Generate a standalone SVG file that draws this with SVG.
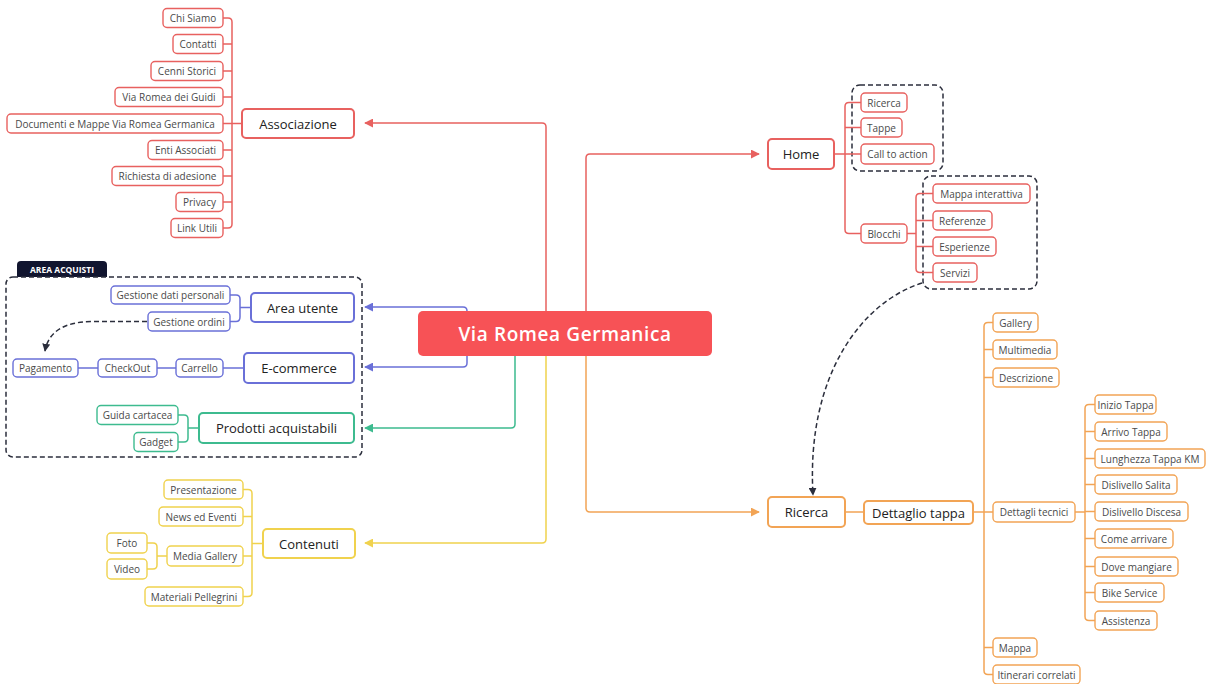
<svg xmlns="http://www.w3.org/2000/svg" width="1206" height="684" viewBox="0 0 1206 684">
<defs>
<style>
.t{font-family:"Open Sans","Liberation Sans",sans-serif;font-size:10px;fill:#4a4a4a;text-anchor:middle;dominant-baseline:central}
.tl{font-family:"Open Sans","Liberation Sans",sans-serif;font-size:13px;font-weight:500;fill:#222;text-anchor:middle;dominant-baseline:central}
.n{fill:#fff;stroke-width:1.4}
.m{fill:#fff;stroke-width:2}
.red{stroke:#e8615f}.blu{stroke:#6a70d8}.grn{stroke:#3dbb8f}.yel{stroke:#f0d24e}.org{stroke:#f2a455}
.c{fill:none;stroke-width:1.5}
.dash{fill:none;stroke:#2b2e3c;stroke-width:1.5;stroke-dasharray:5 3}
</style>
<marker id="ar" viewBox="0 0 10 10" refX="9" refY="5" markerWidth="9" markerHeight="9" markerUnits="userSpaceOnUse" orient="auto"><path d="M0,0L10,5L0,10z" fill="#e8615f"/></marker>
<marker id="ab" viewBox="0 0 10 10" refX="9" refY="5" markerWidth="9" markerHeight="9" markerUnits="userSpaceOnUse" orient="auto"><path d="M0,0L10,5L0,10z" fill="#6a70d8"/></marker>
<marker id="ag" viewBox="0 0 10 10" refX="9" refY="5" markerWidth="9" markerHeight="9" markerUnits="userSpaceOnUse" orient="auto"><path d="M0,0L10,5L0,10z" fill="#3dbb8f"/></marker>
<marker id="ay" viewBox="0 0 10 10" refX="9" refY="5" markerWidth="9" markerHeight="9" markerUnits="userSpaceOnUse" orient="auto"><path d="M0,0L10,5L0,10z" fill="#f0d24e"/></marker>
<marker id="ao" viewBox="0 0 10 10" refX="9" refY="5" markerWidth="9" markerHeight="9" markerUnits="userSpaceOnUse" orient="auto"><path d="M0,0L10,5L0,10z" fill="#f2a455"/></marker>
<marker id="ak" viewBox="0 0 10 10" refX="9" refY="5" markerWidth="8" markerHeight="8" markerUnits="userSpaceOnUse" orient="auto"><path d="M0,0L10,5L0,10z" fill="#2b2e3c"/></marker>
</defs>
<rect width="1206" height="684" fill="#fff"/>

<g id="groups">
<path d="M17,277 V265 Q17,261 21,261 H103 Q107,261 107,265 V277 Z" fill="#11152f"/>
<text x="62" y="269.5" font-family="Open Sans, Liberation Sans, sans-serif" font-size="8.5" font-weight="700" fill="#fff" text-anchor="middle" dominant-baseline="central">AREA ACQUISTI</text>
<rect class="dash" x="6" y="277" width="356" height="180" rx="7"/>
<rect class="dash" x="852" y="85" width="91" height="86" rx="8"/>
<rect class="dash" x="923" y="176" width="114" height="113" rx="8"/>
</g>

<g id="connectors">
<path class="c red" d="M546,311 V127 Q546,123 542,123 H365" marker-end="url(#ar)"/>
<path class="c red" d="M586,311 V158 Q586,154 590,154 H759" marker-end="url(#ar)"/>
<path class="c org" d="M586,356 V508 Q586,512 590,512 H759" marker-end="url(#ao)"/>
<path class="c blu" d="M467,320 V311 Q467,307 463,307 H365" marker-end="url(#ab)"/>
<path class="c blu" d="M467,340 V363 Q467,367 463,367 H365" marker-end="url(#ab)"/>
<path class="c grn" d="M515,356 V424 Q515,428 511,428 H365" marker-end="url(#ag)"/>
<path class="c yel" d="M546,356 V539 Q546,543 542,543 H365" marker-end="url(#ay)"/>

<path class="c red" d="M223,18 H228 Q232,18 232,22 V224 Q232,228 228,228 H223 M223,44 H232 M223,71 H232 M223,97 H232 M223,123.5 H242 M223,150 H232 M223,176 H232 M223,202 H232"/>
<path class="c blu" d="M230,295 H236 Q240,295 240,299 V317 Q240,321.5 236,321.5 H230 M240,307.5 H251 M78,368 H98 M157,368 H176 M223,368 H244"/>
<path class="c grn" d="M178,415 H184 Q188,415 188,419 V438 Q188,442 184,442 H178 M188,428 H199"/>
<path class="c yel" d="M243,489.5 H248 Q252,489.5 252,493.5 V592.5 Q252,596.5 248,596.5 H243 M243,516.5 H252 M243,556 H252 M252,543.5 H263 M147,543 H153 Q157,543 157,547 V565 Q157,569 153,569 H147 M157,556 H167"/>
<path class="c red" d="M861,102.5 H849 Q845,102.5 845,106.5 V229.5 Q845,233.5 849,233.5 H861 M845,127.5 H861 M834,154 H861 M933,193.5 H920 Q916,193.5 916,197.5 V268.5 Q916,272.5 920,272.5 H933 M916,220.5 H933 M916,246.5 H933 M907,233.5 H916"/>
<path class="c org" d="M845,512 H864 M973,512 H993 M993,322.5 H988 Q984,322.5 984,326.5 V670.5 Q984,674.5 988,674.5 H993 M984,349.5 H993 M984,377.5 H993 M984,647.5 H993 M1095,404.5 H1089 Q1085,404.5 1085,408.5 V616.5 Q1085,620.5 1089,620.5 H1095 M1085,431.5 H1095 M1085,458.5 H1095 M1085,484.5 H1095 M1085,511.5 H1095 M1085,538.5 H1095 M1085,566.5 H1095 M1085,592.5 H1095 M1075,512 H1085"/>

<path class="dash" d="M147,321.5 H92 Q50,322 45,351" marker-end="url(#ak)"/>
<path class="dash" d="M922,283 C862,302 806,375 813,495" marker-end="url(#ak)"/>
</g>

<g id="central"><rect x="418" y="311" width="294" height="45" rx="5" fill="#f75256"/><text x="565" y="333.5" font-family="Open Sans, Liberation Sans, sans-serif" font-size="19" font-weight="600" letter-spacing="0.6" fill="#fff" text-anchor="middle" dominant-baseline="central">Via Romea Germanica</text></g>

<g id="associazione"><rect class="m red" x="242" y="109" width="112" height="29" rx="4"/><text class="tl" x="298" y="123.5">Associazione</text></g>
<g id="chi-siamo"><rect class="n red" x="163" y="8.5" width="60" height="19" rx="4"/><text class="t" x="193" y="18">Chi Siamo</text></g>
<g id="contatti"><rect class="n red" x="173" y="34.5" width="50" height="19" rx="4"/><text class="t" x="198" y="44">Contatti</text></g>
<g id="cenni-storici"><rect class="n red" x="151" y="61.5" width="72" height="19" rx="4"/><text class="t" x="187" y="71">Cenni Storici</text></g>
<g id="via-romea-guidi"><rect class="n red" x="115" y="87.5" width="108" height="19" rx="4"/><text class="t" x="169" y="97">Via Romea dei Guidi</text></g>
<g id="documenti"><rect class="n red" x="7" y="114" width="216" height="19" rx="4"/><text class="t" x="115" y="123.5">Documenti e Mappe Via Romea Germanica</text></g>
<g id="enti"><rect class="n red" x="148" y="140.5" width="75" height="19" rx="4"/><text class="t" x="185.5" y="150">Enti Associati</text></g>
<g id="richiesta"><rect class="n red" x="112" y="166.5" width="111" height="19" rx="4"/><text class="t" x="167.5" y="176">Richiesta di adesione</text></g>
<g id="privacy"><rect class="n red" x="176" y="192.5" width="47" height="19" rx="4"/><text class="t" x="199.5" y="202">Privacy</text></g>
<g id="link-utili"><rect class="n red" x="171" y="218.5" width="52" height="19" rx="4"/><text class="t" x="197" y="228">Link Utili</text></g>

<g id="area-utente"><rect class="m blu" x="251" y="293" width="103" height="29" rx="4"/><text class="tl" x="302.5" y="307.5">Area utente</text></g>
<g id="gestione-dati"><rect class="n blu" x="111" y="286" width="119" height="18" rx="4"/><text class="t" x="170.5" y="295">Gestione dati personali</text></g>
<g id="gestione-ordini"><rect class="n blu" x="148" y="312" width="82" height="19" rx="4"/><text class="t" x="189" y="321.5">Gestione ordini</text></g>
<g id="ecommerce"><rect class="m blu" x="244" y="353" width="110" height="30" rx="4"/><text class="tl" x="299" y="368">E-commerce</text></g>
<g id="carrello"><rect class="n blu" x="176" y="359" width="47" height="18" rx="4"/><text class="t" x="199.5" y="368">Carrello</text></g>
<g id="checkout"><rect class="n blu" x="98" y="359" width="59" height="18" rx="4"/><text class="t" x="127.5" y="368">CheckOut</text></g>
<g id="pagamento"><rect class="n blu" x="13" y="359" width="65" height="18" rx="4"/><text class="t" x="45.5" y="368">Pagamento</text></g>
<g id="prodotti"><rect class="m grn" x="199" y="413" width="155" height="30" rx="4"/><text class="tl" x="276.5" y="428">Prodotti acquistabili</text></g>
<g id="guida"><rect class="n grn" x="97" y="405.5" width="81" height="19" rx="4"/><text class="t" x="137.5" y="415">Guida cartacea</text></g>
<g id="gadget"><rect class="n grn" x="134" y="432.5" width="44" height="19" rx="4"/><text class="t" x="156" y="442">Gadget</text></g>

<g id="contenuti"><rect class="m yel" x="263" y="529" width="92" height="29" rx="4"/><text class="tl" x="309" y="543.5">Contenuti</text></g>
<g id="presentazione"><rect class="n yel" x="164" y="480" width="79" height="19" rx="4"/><text class="t" x="203.5" y="489.5">Presentazione</text></g>
<g id="news"><rect class="n yel" x="159" y="507" width="84" height="19" rx="4"/><text class="t" x="201" y="516.5">News ed Eventi</text></g>
<g id="media-gallery"><rect class="n yel" x="167" y="546" width="76" height="20" rx="4"/><text class="t" x="205" y="556">Media Gallery</text></g>
<g id="materiali"><rect class="n yel" x="145" y="587" width="98" height="19" rx="4"/><text class="t" x="194" y="596.5">Materiali Pellegrini</text></g>
<g id="foto"><rect class="n yel" x="107" y="533" width="40" height="20" rx="4"/><text class="t" x="127" y="543">Foto</text></g>
<g id="video"><rect class="n yel" x="107" y="559" width="40" height="20" rx="4"/><text class="t" x="127" y="569">Video</text></g>

<g id="home"><rect class="m red" x="768" y="139" width="66" height="30" rx="4"/><text class="tl" x="801" y="154">Home</text></g>
<g id="home-ricerca"><rect class="n red" x="861" y="93" width="46" height="19" rx="4"/><text class="t" x="884" y="102.5">Ricerca</text></g>
<g id="tappe"><rect class="n red" x="861" y="118" width="41" height="19" rx="4"/><text class="t" x="881.5" y="127.5">Tappe</text></g>
<g id="call-to-action"><rect class="n red" x="861" y="144" width="73" height="20" rx="4"/><text class="t" x="897.5" y="154">Call to action</text></g>
<g id="blocchi"><rect class="n red" x="861" y="224" width="46" height="19" rx="4"/><text class="t" x="884" y="233.5">Blocchi</text></g>
<g id="mappa-interattiva"><rect class="n red" x="933" y="184" width="97" height="19" rx="4"/><text class="t" x="981.5" y="193.5">Mappa interattiva</text></g>
<g id="referenze"><rect class="n red" x="933" y="211" width="59" height="19" rx="4"/><text class="t" x="962.5" y="220.5">Referenze</text></g>
<g id="esperienze"><rect class="n red" x="933" y="237" width="63" height="19" rx="4"/><text class="t" x="964.5" y="246.5">Esperienze</text></g>
<g id="servizi"><rect class="n red" x="933" y="263" width="44" height="19" rx="4"/><text class="t" x="955" y="272.5">Servizi</text></g>

<g id="ricerca"><rect class="m org" x="768" y="497" width="77" height="30" rx="4"/><text class="tl" x="806.5" y="512">Ricerca</text></g>
<g id="dettaglio-tappa"><rect class="m org" x="864" y="501" width="109" height="23" rx="4"/><text class="tl" x="918.5" y="512.5">Dettaglio tappa</text></g>
<g id="gallery"><rect class="n org" x="993" y="313" width="45" height="19" rx="4"/><text class="t" x="1015.5" y="322.5">Gallery</text></g>
<g id="multimedia"><rect class="n org" x="993" y="340" width="64" height="19" rx="4"/><text class="t" x="1025" y="349.5">Multimedia</text></g>
<g id="descrizione"><rect class="n org" x="993" y="368" width="66" height="19" rx="4"/><text class="t" x="1026" y="377.5">Descrizione</text></g>
<g id="dettagli-tecnici"><rect class="n org" x="993" y="502" width="82" height="20" rx="4"/><text class="t" x="1034" y="512">Dettagli tecnici</text></g>
<g id="mappa"><rect class="n org" x="993" y="638" width="44" height="19" rx="4"/><text class="t" x="1015" y="647.5">Mappa</text></g>
<g id="itinerari"><rect class="n org" x="993" y="665" width="87" height="19" rx="4"/><text class="t" x="1036.5" y="674.5">Itinerari correlati</text></g>
<g id="inizio-tappa"><rect class="n org" x="1095" y="395" width="61" height="19" rx="4"/><text class="t" x="1125.5" y="404.5">Inizio Tappa</text></g>
<g id="arrivo-tappa"><rect class="n org" x="1095" y="422" width="72" height="19" rx="4"/><text class="t" x="1131" y="431.5">Arrivo Tappa</text></g>
<g id="lunghezza"><rect class="n org" x="1095" y="449" width="110" height="19" rx="4"/><text class="t" x="1150" y="458.5">Lunghezza Tappa KM</text></g>
<g id="salita"><rect class="n org" x="1095" y="475" width="82" height="19" rx="4"/><text class="t" x="1136" y="484.5">Dislivello Salita</text></g>
<g id="discesa"><rect class="n org" x="1095" y="502" width="93" height="19" rx="4"/><text class="t" x="1141.5" y="511.5">Dislivello Discesa</text></g>
<g id="come-arrivare"><rect class="n org" x="1095" y="529" width="78" height="19" rx="4"/><text class="t" x="1134" y="538.5">Come arrivare</text></g>
<g id="dove-mangiare"><rect class="n org" x="1095" y="557" width="83" height="19" rx="4"/><text class="t" x="1136.5" y="566.5">Dove mangiare</text></g>
<g id="bike-service"><rect class="n org" x="1095" y="583" width="69" height="19" rx="4"/><text class="t" x="1129.5" y="592.5">Bike Service</text></g>
<g id="assistenza"><rect class="n org" x="1095" y="611" width="62" height="19" rx="4"/><text class="t" x="1126" y="620.5">Assistenza</text></g>
</svg>
